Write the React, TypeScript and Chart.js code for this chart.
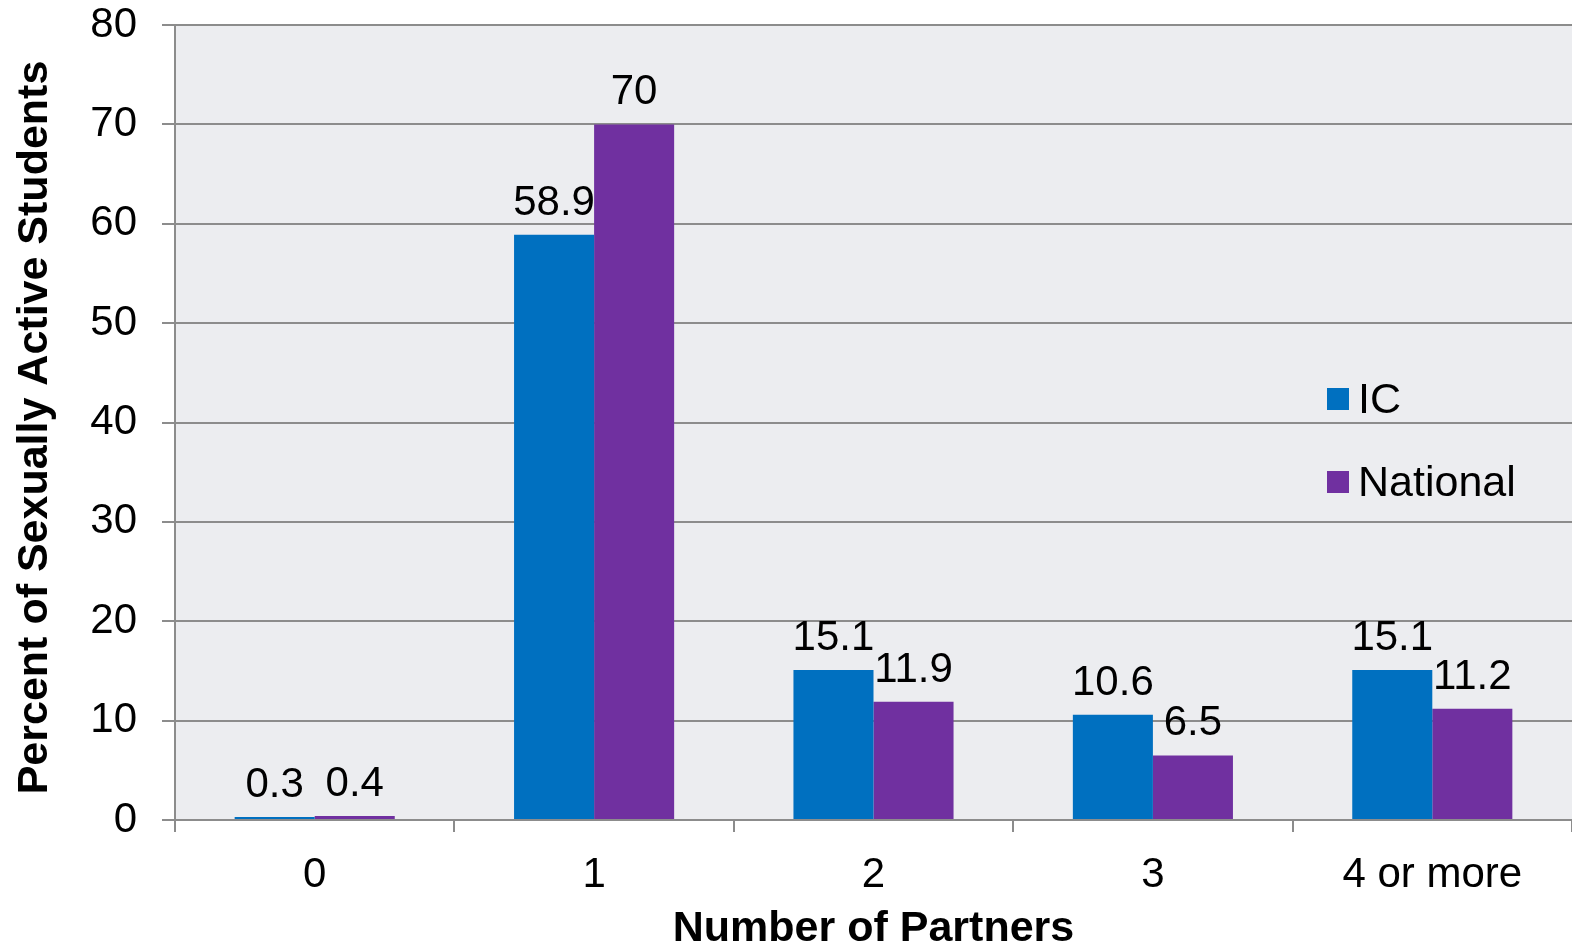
import React, { useEffect, useRef } from "react";
import { Chart, registerables } from "chart.js";

Chart.register(...registerables);

const categories = ["0", "1", "2", "3", "4 or more"];
const icValues = [0.3, 58.9, 15.1, 10.6, 15.1];
const nationalValues = [0.4, 70, 11.9, 6.5, 11.2];
const seriesNames = ["IC", "National"];
const seriesColors = ["#0070C0", "#7030A0"];
const yTitle = "Percent of Sexually Active Students";
const xTitle = "Number of Partners";

const FONT = '"Liberation Sans", Arial, sans-serif';
const GRID = "#8C8C8C";

const bgPlugin = {
  id: "plotBg",
  beforeDraw(chart: any) {
    const { ctx, chartArea } = chart;
    ctx.save();
    ctx.fillStyle = "#ECEDF0";
    ctx.fillRect(chartArea.left, chartArea.top, chartArea.right - chartArea.left, chartArea.bottom - chartArea.top);
    ctx.restore();
  },
};

const labelPlugin = {
  id: "valueLabels",
  afterDatasetsDraw(chart: any) {
    const { ctx } = chart;
    ctx.save();
    ctx.font = `42px ${FONT}`;
    ctx.fillStyle = "#000";
    ctx.textAlign = "center";
    ctx.textBaseline = "alphabetic";
    chart.data.datasets.forEach((ds: any, i: number) => {
      const meta = chart.getDatasetMeta(i);
      meta.data.forEach((el: any, j: number) => {
        ctx.fillText(String(ds.data[j]), el.x, el.y - 20);
      });
    });
    ctx.restore();
  },
};

const decoPlugin = {
  id: "deco",
  afterDraw(chart: any) {
    const { ctx, chartArea } = chart;
    ctx.save();
    // legend
    ctx.font = `43px ${FONT}`;
    ctx.textAlign = "left";
    ctx.textBaseline = "alphabetic";
    const lx = chartArea.right - 245;
    const rows = [chartArea.top + 363, chartArea.top + 446];
    chart.data.datasets.forEach((ds: any, i: number) => {
      ctx.fillStyle = ds.backgroundColor;
      ctx.fillRect(lx, rows[i], 22, 22);
      ctx.fillStyle = "#000";
      ctx.fillText(ds.label, lx + 31, rows[i] + 25);
    });
    // axis titles
    ctx.font = `bold 43px ${FONT}`;
    ctx.fillStyle = "#000";
    ctx.textAlign = "center";
    ctx.fillText(xTitle, (chartArea.left + chartArea.right) / 2, chart.height - 5);
    ctx.translate(47, (chartArea.top + chartArea.bottom) / 2 + 5);
    ctx.rotate(-Math.PI / 2);
    ctx.fillText(yTitle, 0, 0);
    ctx.restore();
  },
};

export default function App() {
  const ref = useRef<HTMLCanvasElement>(null);
  useEffect(() => {
    if (!ref.current) return;
    const chart = new Chart(ref.current, {
      type: "bar",
      data: {
        labels: categories,
        datasets: [
          { label: seriesNames[0], data: icValues, backgroundColor: seriesColors[0], barPercentage: 1, categoryPercentage: 0.573 },
          { label: seriesNames[1], data: nationalValues, backgroundColor: seriesColors[1], barPercentage: 1, categoryPercentage: 0.573 },
        ],
      },
      options: {
        responsive: false,
        animation: false,
        layout: { padding: { top: 0, left: 0, right: 0, bottom: 0 } },
        plugins: { legend: { display: false }, tooltip: { enabled: false }, title: { display: false } },
        scales: {
          x: {
            grid: { display: true, drawOnChartArea: false, drawTicks: true, tickLength: 12, color: GRID, lineWidth: 2, offset: true },
            border: { display: true, color: GRID, width: 2 },
            ticks: { color: "#000", font: { family: FONT, size: 42 }, padding: 18, maxRotation: 0, autoSkip: false },
            afterFit(scale: any) {
              scale.height = 126;
              scale.paddingLeft = 0;
              scale.paddingRight = 0;
            },
          },
          y: {
            min: 0,
            max: 80,
            grid: { color: GRID, lineWidth: 2, tickLength: 13, drawTicks: true },
            border: { display: true, color: GRID, width: 2 },
            ticks: { stepSize: 10, color: "#000", font: { family: FONT, size: 42 }, padding: 25 },
            afterFit(scale: any) {
              scale.width = 175;
              scale.paddingTop = 25;
              scale.paddingBottom = 0;
            },
          },
        },
      },
      plugins: [bgPlugin, labelPlugin, decoPlugin],
    });
    return () => chart.destroy();
  }, []);
  return (
    <div style={{ position: "absolute", left: 0, top: 0, width: 1572, height: 946, background: "#fff" }}>
      <canvas ref={ref} width={1572} height={946} />
    </div>
  );
}
